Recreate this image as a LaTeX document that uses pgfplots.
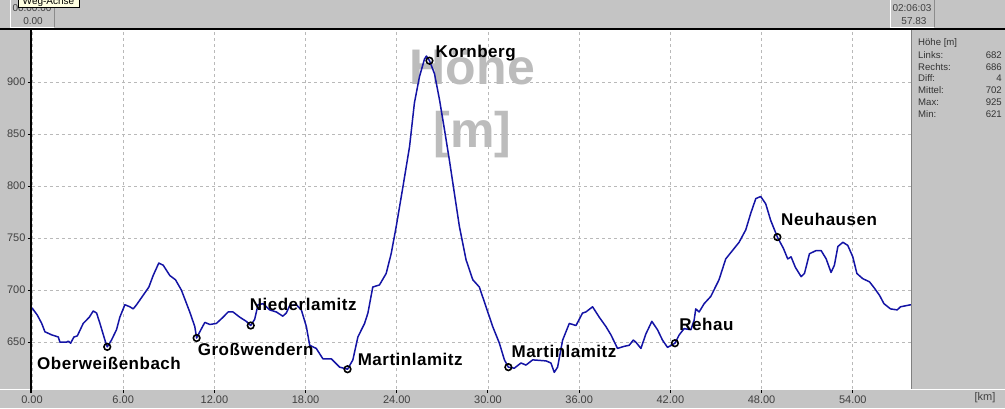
\documentclass[border=0pt]{standalone}
\usepackage{pgfplots}
\pgfplotsset{compat=1.18}
\usepackage{fontspec}
\setmainfont{Liberation Sans}
\newfontfamily\lblfont[LetterSpace=3]{Liberation Sans}
\definecolor{panel}{RGB}{196,196,196}
\definecolor{profil}{RGB}{20,20,165}
\definecolor{wm}{RGB}{188,188,188}
\definecolor{gridc}{RGB}{185,185,185}
\definecolor{tip}{RGB}{255,255,225}
\newcommand{\lbl}{\fontsize{17}{20}\lblfont\bfseries}
\newcommand{\tk}{\fontsize{11}{13}\selectfont}
\newcommand{\sm}{\fontsize{9.6}{11}\selectfont}
\begin{document}
\begin{tikzpicture}[x=1pt,y=1pt]
\path[use as bounding box] (0,0) rectangle (1005,408);
\begin{scope}
\clip (0,0) rectangle (1005,408);
\fill[panel] (0,0) rectangle (1005,408);
\fill[white] (32,19) rectangle (911,378);
% header boxes
\draw[white,line width=0.8pt] (10,381) -- (10,408);
\draw[black!45,line width=0.8pt] (54,381) -- (54,408);
\draw[white,line width=0.8pt] (10,381) -- (54,381);
\node[font=\fontsize{10}{12}\selectfont, text=black!75] at (32,400) {00:00:00};
\node[font=\fontsize{10}{12}\selectfont, text=black!75] at (33,387) {0.00};
\draw[white,line width=0.8pt] (890,381) -- (890,408);
\draw[black!45,line width=0.8pt] (934,381) -- (934,408);
\draw[white,line width=0.8pt] (890,381) -- (934,381);
\node[font=\fontsize{10}{12}\selectfont, text=black!75] at (912,400) {02:06:03};
\node[font=\fontsize{10}{12}\selectfont, text=black!75] at (914,387) {57.83};
\filldraw[fill=tip,draw=black,line width=0.6pt] (18,401) rectangle (79,412);
\node[anchor=base, font=\fontsize{10}{12}\selectfont, inner sep=0] at (48.5,403) {Weg-Achse};
\end{scope}
% right panel text
\node[anchor=west, font=\sm, text=black!80, inner sep=0] at (918,364.7) {Höhe [m]};
\node[anchor=west, font=\sm, text=black!80, inner sep=0] at (918,353) {Links:};
\node[anchor=west, font=\sm, text=black!80, inner sep=0] at (918,341.3) {Rechts:};
\node[anchor=west, font=\sm, text=black!80, inner sep=0] at (918,329.5) {Diff:};
\node[anchor=west, font=\sm, text=black!80, inner sep=0] at (918,317.5) {Mittel:};
\node[anchor=west, font=\sm, text=black!80, inner sep=0] at (918,305.5) {Max:};
\node[anchor=west, font=\sm, text=black!80, inner sep=0] at (918,293.7) {Min:};
\node[anchor=east, font=\sm, text=black!80, inner sep=0] at (1002,353) {682};
\node[anchor=east, font=\sm, text=black!80, inner sep=0] at (1002,341.3) {686};
\node[anchor=east, font=\sm, text=black!80, inner sep=0] at (1002,329.5) {4};
\node[anchor=east, font=\sm, text=black!80, inner sep=0] at (1002,317.5) {702};
\node[anchor=east, font=\sm, text=black!80, inner sep=0] at (1002,305.5) {925};
\node[anchor=east, font=\sm, text=black!80, inner sep=0] at (1002,293.7) {621};
\node[font=\tk, text=black!75] at (985,10) {[km]};
\begin{axis}[
  at={(32pt,19pt)}, anchor=south west, scale only axis,
  width=879pt, height=359pt,
  xmin=0, xmax=57.83, ymin=605, ymax=950,
  axis line style={draw=none},
  xtick={0,6,12,18,24,30,36,42,48,54},
  xticklabels={0.00,6.00,12.00,18.00,24.00,30.00,36.00,42.00,48.00,54.00},
  ytick={650,700,750,800,850,900},
  yticklabels={650,700,750,800,850,900},
  xtick pos=bottom, ytick pos=left, tick align=outside,
  major tick length=4pt,
  tick style={black, line width=1pt},
  ticklabel style={font=\tk, text=black!75},
  xticklabel style={yshift=1pt},
  yticklabel style={xshift=1pt},
  grid=major,
  major grid style={gridc, dash pattern=on 3pt off 3pt, line width=0.7pt},
  clip=false,
]
\node[anchor=base, font=\fontsize{50}{60}\selectfont\bfseries, text=wm, inner sep=0] at (axis cs:28.97,898) {Höhe};
\node[anchor=base, font=\fontsize{50}{60}\selectfont\bfseries, text=wm, inner sep=0] at (axis cs:28.97,837.5) {[m]};
\addplot[profil, line width=1.5pt, line join=round] coordinates {
(0.00,683) (0.35,676) (0.64,668) (0.85,660) (1.30,657) (1.73,655) (1.84,650)
(2.28,650) (2.39,651) (2.54,649) (2.76,655) (2.98,656) (3.37,668) (3.77,674)
(4.03,680) (4.25,678) (4.47,668) (4.86,649) (4.95,645.5) (5.23,652) (5.56,662)
(5.78,674) (6.11,686) (6.44,684) (6.66,682) (6.88,686) (7.31,695) (7.69,703)
(7.97,714) (8.34,726) (8.63,724) (9.07,714) (9.44,710) (9.83,700) (10.38,679)
(10.71,665) (10.83,654) (11.04,660) (11.37,669) (11.70,667) (12.13,668)
(12.57,674) (12.90,679) (13.23,679) (13.67,674) (14.10,670) (14.39,666)
(14.65,672) (14.87,686) (15.20,687) (15.64,681) (16.08,679) (16.50,675)
(16.73,678) (16.95,685) (17.39,686) (17.72,681) (18.05,665) (18.27,647)
(18.70,644) (19.14,634) (19.69,634) (20.24,626) (20.76,624) (21.11,633)
(21.44,655) (21.88,668) (22.10,678) (22.42,703) (22.86,705) (23.30,716)
(23.63,735) (23.96,761) (24.40,799) (24.84,838) (25.16,880) (25.49,905)
(25.82,922) (25.95,925) (26.15,920.5) (26.48,908) (26.81,883) (27.14,854)
(27.46,825) (27.79,793) (28.12,761) (28.56,729) (29.00,710) (29.43,703)
(29.87,684) (30.31,665) (30.75,649) (31.08,633) (31.34,626) (31.73,625)
(32.17,630) (32.50,628) (32.94,633) (33.82,632) (34.14,630) (34.36,621)
(34.58,626) (34.91,652) (35.35,668) (35.79,666) (36.22,678) (36.44,679)
(36.88,684) (37.32,674) (37.76,665) (38.09,657) (38.52,644) (38.96,646)
(39.29,647) (39.56,652) (39.73,650) (40.06,644) (40.39,658) (40.78,670)
(41.15,662) (41.48,652) (41.81,645) (42.30,649) (42.58,657) (42.90,663)
(43.35,662) (43.56,671) (43.67,682) (43.89,679) (44.22,687) (44.66,694)
(45.20,710) (45.64,730) (46.08,738) (46.52,746) (46.96,758) (47.29,774)
(47.62,788) (47.94,790) (48.27,783) (48.60,767) (49.04,751) (49.44,740)
(49.72,730) (49.94,732) (50.22,722) (50.60,713) (50.82,716) (51.15,735)
(51.58,738) (51.92,738) (52.25,730) (52.57,717) (52.79,724) (53.02,742)
(53.35,746) (53.67,743) (54.00,732) (54.27,716) (54.66,711) (55.10,708)
(55.42,702) (55.76,695) (56.05,687) (56.48,682) (56.92,681) (57.14,684)
(57.83,686)
};
\addplot[only marks, mark=o, mark size=3.3pt, mark options={black, line width=1.6pt}] coordinates {
(4.95,645.5) (10.83,654) (14.39,666) (20.76,624) (26.15,920.5) (31.34,626) (42.30,649) (49.04,751)
};
\node[anchor=base west, font=\lbl, inner sep=0] at (axis cs:0.33,624) {Oberweißenbach};
\node[anchor=base west, font=\lbl, inner sep=0] at (axis cs:10.9,637.5) {Großwendern};
\node[anchor=base west, font=\lbl, inner sep=0] at (axis cs:14.32,680) {Niederlamitz};
\node[anchor=base west, font=\lbl, inner sep=0] at (axis cs:21.42,628) {Martinlamitz};
\node[anchor=base west, font=\lbl, inner sep=0] at (axis cs:26.54,924) {Kornberg};
\node[anchor=base west, font=\lbl, inner sep=0] at (axis cs:31.54,635.6) {Martinlamitz};
\node[anchor=base west, font=\lbl, inner sep=0] at (axis cs:42.58,661.5) {Rehau};
\node[anchor=base west, font=\lbl, inner sep=0] at (axis cs:49.28,762.5) {Neuhausen};
\end{axis}
\draw[white, line width=1.5pt] (0,18.5) -- (1005,18.5);
\draw[black, line width=2pt] (0,379) -- (1005,379);
\draw[black, line width=2.2pt] (31,15) -- (31,379);
\draw[black!50, line width=1.2pt] (911.6,19.5) -- (911.6,378);
\end{tikzpicture}
\end{document}
